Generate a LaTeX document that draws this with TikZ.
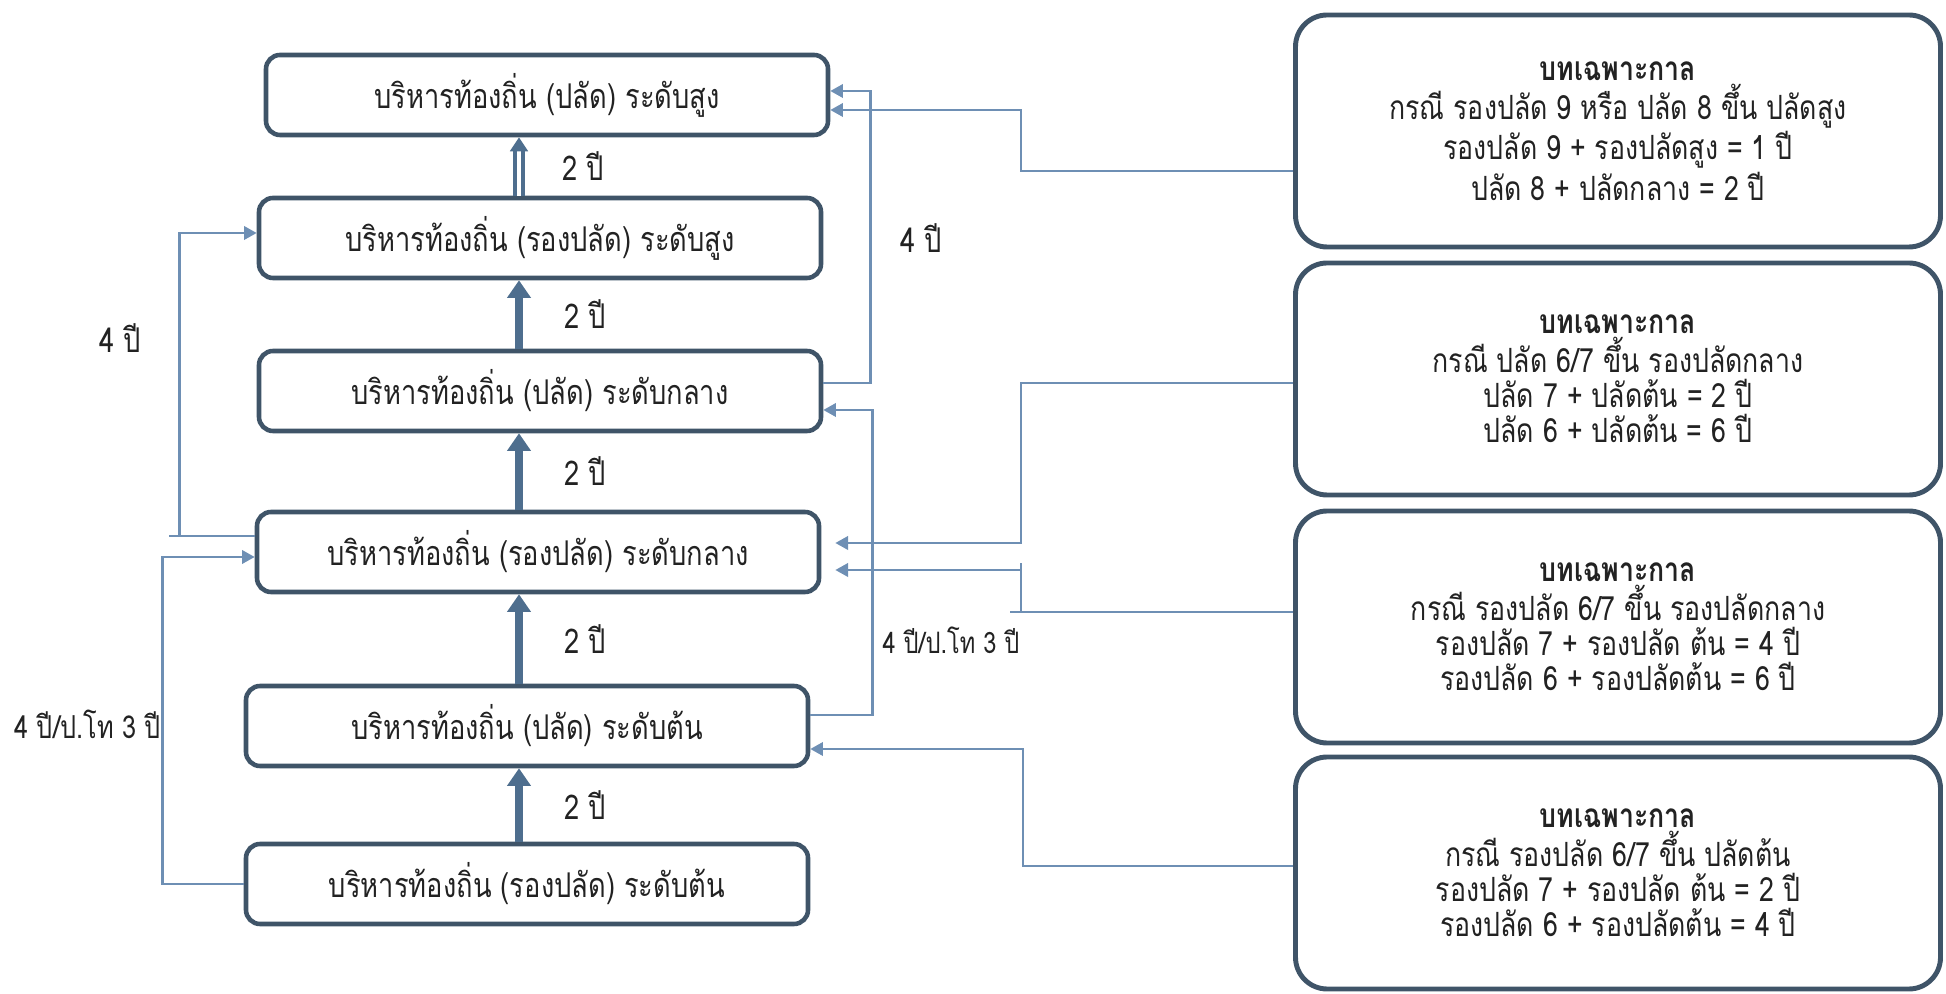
\documentclass[tikz,border=0pt]{standalone}
\usepackage{fontspec}
\newfontfamily\thaifont[Script=Thai,FakeStretch=0.8]{Loma}
\usetikzlibrary{arrows.meta,calc}

\definecolor{boxline}{HTML}{3F5468}
\definecolor{connline}{HTML}{6E8FB4}
\definecolor{upline}{HTML}{4E6E8E}
\definecolor{ink}{HTML}{222222}

\tikzset{
  rank/.style={draw=boxline, line width=1.3pt, rounded corners=4pt,
    minimum width=5.62cm, minimum height=0.8cm, text=ink,
    font=\thaifont\fontsize{9.7}{11}\selectfont},
  rule/.style={draw=boxline, line width=1.4pt, rounded corners=9pt,
    minimum width=6.45cm, minimum height=2.32cm, align=center, text=ink,
    font=\thaifont\fontsize{9.5}{10}\selectfont},
  conn/.style={draw=connline, line width=0.7pt},
  tip/.style={-{Triangle[length=3.6pt,width=3.8pt]}},
  uparr/.style={draw=upline, line width=2.2pt, -{Triangle[length=5pt,width=6.5pt]}},
  uparrd/.style={draw=upline, line width=0.9pt, double=white, double distance=1.4pt,
    -{Triangle[length=4pt,width=5pt]}},
  yrs/.style={midway, anchor=west, xshift=0.3cm, text=ink,
    font=\thaifont\fontsize{9.7}{11}\selectfont},
  note/.style={text=ink, font=\thaifont\fontsize{9.7}{11}\selectfont}
}

\begin{document}
\begin{tikzpicture}[x=1cm,y=1cm]
  \useasboundingbox (0,0) rectangle (19.46,9.93);

  % ranks, top to bottom
  \node[rank] (pSoong) at (5.47,8.98) {บริหารท้องถิ่น (ปลัด) ระดับสูง};
  \node[rank] (rSoong) at (5.40,7.55) {บริหารท้องถิ่น (รองปลัด) ระดับสูง};
  \node[rank] (pKlang) at (5.40,6.02) {บริหารท้องถิ่น (ปลัด) ระดับกลาง};
  \node[rank] (rKlang) at (5.38,4.41) {บริหารท้องถิ่น (รองปลัด) ระดับกลาง};
  \node[rank] (pTon) at (5.27,2.67) {บริหารท้องถิ่น (ปลัด) ระดับต้น};
  \node[rank] (rTon) at (5.27,1.09) {บริหารท้องถิ่น (รองปลัด) ระดับต้น};

  % transitional rules
  \node[rule] (bt1) at (16.18,8.62) {\textbf{บทเฉพาะกาล}\\กรณี รองปลัด 9 หรือ ปลัด 8 ขึ้น ปลัดสูง\\รองปลัด 9 + รองปลัดสูง = 1 ปี\\ปลัด 8 + ปลัดกลาง = 2 ปี};
  \node[rule] (bt2) at (16.18,6.14) {\textbf{บทเฉพาะกาล}\\กรณี ปลัด 6/7 ขึ้น รองปลัดกลาง\\ปลัด 7 + ปลัดต้น = 2 ปี\\ปลัด 6 + ปลัดต้น = 6 ปี};
  \node[rule] (bt3) at (16.18,3.66) {\textbf{บทเฉพาะกาล}\\กรณี รองปลัด 6/7 ขึ้น รองปลัดกลาง\\รองปลัด 7 + รองปลัด ต้น = 4 ปี\\รองปลัด 6 + รองปลัดต้น = 6 ปี};
  \node[rule] (bt4) at (16.18,1.20) {\textbf{บทเฉพาะกาล}\\กรณี รองปลัด 6/7 ขึ้น ปลัดต้น\\รองปลัด 7 + รองปลัด ต้น = 2 ปี\\รองปลัด 6 + รองปลัดต้น = 4 ปี};

  % 2-year steps
  \coordinate (spine) at (5.19,0);
  \draw[uparrd] (rSoong.north -| spine) -- (pSoong.south -| spine) node[yrs] {2 ปี};
  \foreach \a/\b in {pKlang/rSoong, rKlang/pKlang, pTon/rKlang, rTon/pTon}
    \draw[uparr] (\a.north -| spine) -- (\b.south -| spine) node[yrs] {2 ปี};

  % left side jumps
  \draw[conn] ($(rKlang.west)+(0,0.16)$) -- ++(-0.86,0);
  \draw[conn,tip] ($(rKlang.west)+(-0.75,0.16)$) |- ($(rSoong.west)+(0,0.05)$);
  \draw[conn,tip] (rTon.west) -- ++(-0.81,0) |- ($(rKlang.west)+(0,-0.05)$);
  \node[note] (n1) at (1.20,6.55) {4 ปี};
  \node[note, anchor=west, font=\thaifont\fontsize{9}{11}\selectfont] (n2) at (0.02,2.69) {4 ปี/ป.โท 3 ปี};

  % right side jumps
  \draw[conn,tip] ($(pKlang.east)+(0,0.08)$) -- ++(0.47,0) |- ($(pSoong.east)+(0,0.04)$);
  \draw[conn,tip] ($(pTon.east)+(0,0.11)$) -- ++(0.62,0) |- ($(pKlang.east)+(0,-0.19)$);
  \node[note] (n3) at (9.21,7.55) {4 ปี};
  \node[note, font=\thaifont\fontsize{8.4}{11}\selectfont] (n4) at (9.51,3.53) {4 ปี/ป.โท 3 ปี};

  % from the transitional rules
  \draw[conn,tip] ($(bt1.west)+(0,-0.40)$) -- ++(-2.72,0) |- ($(pSoong.east)+(0,-0.15)$);
  \draw[conn,tip,shorten >=4pt] ($(bt2.west)+(0,-0.04)$) -- ++(-2.72,0) |- ($(rKlang.east)+(0,0.09)$);
  \draw[conn] ($(bt3.west)+(0,0.15)$) -- ++(-2.83,0);
  \draw[conn] ($(bt3.west)+(-2.72,0.15)$) -- ++(0,0.49);
  \draw[conn,tip,shorten >=4pt] ($(bt3.west)+(-2.72,0.57)$) coordinate (t3) -- (t3 -| rKlang.east);
  \draw[conn,tip] ($(bt4.west)+(0,0.07)$) -- ++(-2.70,0) |- ($(pTon.east)+(0,-0.23)$);
\end{tikzpicture}
\end{document}
